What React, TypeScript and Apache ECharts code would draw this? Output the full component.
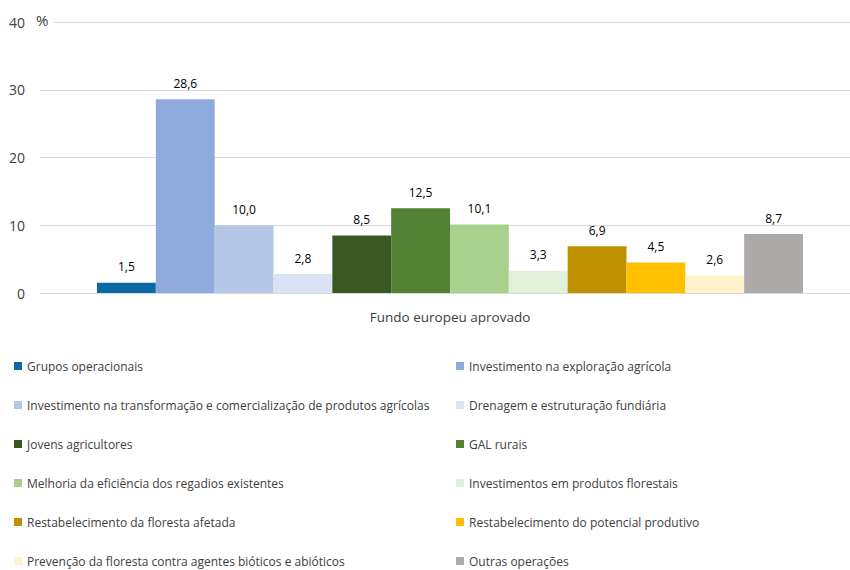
import React, { useEffect, useRef } from "react";
import * as echarts from "echarts";

const categories = ["Fundo europeu aprovado"];
const seriesNames = [
  "Grupos operacionais",
  "Investimento na exploração agrícola",
  "Investimento na transformação e comercialização de produtos agrícolas",
  "Drenagem e estruturação fundiária",
  "Jovens agricultores",
  "GAL rurais",
  "Melhoria da eficiência dos regadios existentes",
  "Investimentos em produtos florestais",
  "Restabelecimento da floresta afetada",
  "Restabelecimento do potencial produtivo",
  "Prevenção da floresta contra agentes bióticos e abióticos",
  "Outras operações",
];
const seriesValues = [1.5, 28.6, 10.0, 2.8, 8.5, 12.5, 10.1, 3.3, 6.9, 4.5, 2.6, 8.7];
const seriesColors = [
  "#0A6AA6", "#8FAADC", "#B4C7E7", "#DAE3F3", "#385723", "#548235",
  "#A9D18E", "#E2F0D9", "#BF9000", "#FFC000", "#FFF2CC", "#AEAAAA",
];
const yTicks = [0, 10, 20, 30, 40];

const FONT = "'Open Sans', 'Noto Sans', sans-serif";

export default function App() {
  const ref = useRef<HTMLDivElement>(null);
  useEffect(() => {
    if (!ref.current) return;
    const chart = echarts.init(ref.current, undefined, { renderer: "svg" });
    const legendText = { fontFamily: FONT, fontSize: 12, color: "#404040", lineHeight: 14 };
    const yMin = yTicks[0];
    const yMax = yTicks[yTicks.length - 1];
    const legendCommon = {
      orient: "vertical",
      top: 359,
      height: 240,
      padding: 0,
      itemWidth: 8,
      itemHeight: 8,
      itemGap: 25,
      icon: "rect",
      textStyle: legendText,
      selectedMode: false,
    };
    chart.setOption({
      animation: false,
      grid: [
        { left: 40, right: 0, top: 22, height: 271, containLabel: false },
        { left: 50, width: 800, top: 22, height: 271, containLabel: false },
      ],
      xAxis: [
        {
          type: "category",
          gridIndex: 0,
          data: categories,
          axisLine: { lineStyle: { color: "#D9D9D9" } },
          axisTick: { show: false },
          axisLabel: { show: false },
        },
        {
          type: "category",
          gridIndex: 1,
          data: categories,
          axisLine: { show: false },
          axisTick: { show: false },
          axisLabel: { fontFamily: FONT, fontSize: 13.5, color: "#404040", margin: 17 },
        },
      ],
      yAxis: [
        {
          type: "value",
          gridIndex: 0,
          min: yMin,
          max: yMax,
          interval: 10,
          axisLine: { show: false },
          axisTick: { show: false },
          splitLine: { lineStyle: { color: "#D9D9D9" } },
          axisLabel: { fontFamily: FONT, fontSize: 14, color: "#404040", margin: 15 },
        },
        {
          type: "value",
          gridIndex: 1,
          min: yMin,
          max: yMax,
          interval: 10,
          show: false,
        },
      ],
      legend: [
        { ...legendCommon, data: seriesNames.filter((_, i) => i % 2 === 0), left: 14 },
        { ...legendCommon, data: seriesNames.filter((_, i) => i % 2 === 1), left: 456 },
      ],
      graphic: [
        { type: "rect", left: 38, top: 19, shape: { width: 16, height: 5 }, style: { fill: "#fff" }, z: 10 },
        {
          type: "text",
          left: 36,
          top: 12,
          style: { text: "%", fontFamily: FONT, fontSize: 15, fill: "#404040" },
          z: 11,
        },
      ],
      series: seriesNames.map((name, i) => ({
        name,
        type: "bar",
        xAxisIndex: 1,
        yAxisIndex: 1,
        data: [seriesValues[i]],
        barGap: "0%",
        barCategoryGap: "11.75%",
        itemStyle: { color: seriesColors[i] },
        label: {
          show: true,
          position: "top",
          distance: 10,
          fontFamily: FONT,
          fontSize: 12,
          color: "#000",
          formatter: (p: any) => p.value.toFixed(1).replace(".", ","),
        },
      })),
    });
    return () => chart.dispose();
  }, []);
  return <div ref={ref} style={{ width: 850, height: 570, position: "absolute", left: 0, top: 0 }} />;
}
